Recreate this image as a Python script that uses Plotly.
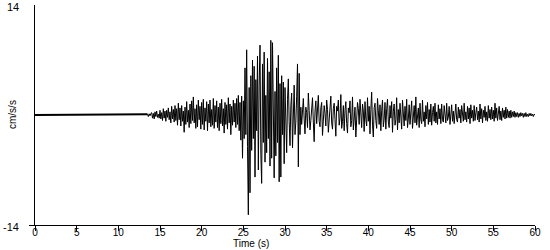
import plotly.graph_objects as go

# Accelerogram samples (cm/s/s); first sample at t_start, spacing dt
t_start = 13.5
dt = 0.1
acc = [
    0.1, -0.2, 0.15, -0.1, 0.2,
    0.3, -0.4, 0.2, -0.5, 0.4, -0.2, 0.5, -0.3, 0.1, -0.4,
    0.6, -0.5, 0.3, -0.7, 0.8, -0.4, 0.5, -0.8, 0.6, -0.3,
    0.9, -0.6, 0.4, -1.0, 1.1, -0.5, 0.7, -0.9, 1.2, -0.7,
    0.8, -1.3, 1.5, -0.6, 0.9, -1.4, 1.2, -0.8, 0.5, -2.2,
    1.0, -1.2, 1.7, -0.9, 0.6, -1.6, 1.4, -1.1, 1.8, -0.7,
    2.3, -1.0, 0.8, -1.7, 1.3, -1.5, 1.9, -0.6, 1.1, -1.8,
    1.6, -1.2, 2.0, -1.9, 0.9, -0.8, 1.7, -2.0, 1.4, -1.0,
    1.9, -1.5, 0.7, -1.3, 2.1, -1.7, 1.2, -0.9, 1.8, -1.6,
    1.0, -2.0, 1.5, -1.1, 2.0, -1.4, 0.8, -2.3, 1.6, -1.2,
    1.3, -1.8, 2.2, -1.0, 1.4, -2.5, 1.1, -1.3, 1.9, -0.9,
    1.5, -1.6, 2.1, -1.2, 2.5, -2.0, 1.6, -3.2, 2.4, -5.5,
    1.8, -3.0, 6.0, -2.5, 8.3, -4.0, -12.7, 3.5, -9.9, 5.0,
    -4.5, 7.0, -3.0, 6.2, -7.9, 4.5, -2.0, 7.5, -7.0, 3.8,
    8.9, -5.0, -8.7, 6.5, -3.5, 8.0, -6.0, 2.5, -4.8, 7.2,
    -3.0, 5.5, -6.5, 9.5, -5.5, 9.2, -4.0, -8.0, 3.0, -5.2,
    6.0, -3.5, 7.6, -8.5, 4.0, -7.9, 5.0, -2.5, 4.2, -6.2,
    3.5, -1.5, -4.8, 2.0, 4.6, -0.8, -3.9, 1.2, 2.8, -4.2,
    1.5, 3.8, -2.5, -0.9, 2.4, 6.5, -6.6, 5.3, -2.5, 1.0,
    -1.2, 0.8, 2.1, -0.5, -2.4, 1.0, 0.3, -1.6, 2.8, 0.6,
    -1.9, -0.7, 1.4, 2.2, -0.9, -3.4, 0.5, 1.8, -1.1, 0.4,
    2.5, -0.8, -1.5, 0.9, 1.6, -2.6, -0.6, 1.2, 0.2, -1.4,
    1.9, 0.7, -2.2, -0.9, 1.3, 2.4, -1.0, -1.8, 0.8, 1.5,
    -0.6, -2.7, 1.1, 0.5, 1.9, -1.3, -0.4, 2.6, -1.7, -0.8,
    1.2, -2.0, 0.6, 1.7, -1.1, -2.3, 0.9, 0.3, 1.8, -1.5,
    -0.7, 2.3, -1.9, 0.4, 1.0, -2.8, -0.5, 1.6, 0.8, -1.2,
    2.0, -0.9, -1.6, 1.4, 0.5, -2.1, 1.7, -0.6, -1.4, 2.2,
    -0.8, 1.1, -2.4, 0.7, 2.9, -1.3, -2.8, 0.9, 1.5, -0.7,
    -1.7, 2.1, 0.4, -1.2, 1.3, -2.0, 0.6, 1.9, -1.5, -0.5,
    1.6, -1.8, 0.8, 2.0, -0.9, -1.6, 1.2, -0.4, 1.7, -2.2,
    0.5, 1.4, -1.3, -0.6, 2.2, -1.9, 0.7, -1.0, 1.5, -0.8,
    -1.8, 1.9, 0.4, -1.4, 1.1, -0.7, 2.0, -1.6, -0.5, 1.3,
    -1.2, 0.6, 1.8, -1.7, -0.4, 1.2, -1.0, 2.3, -1.3, 0.5,
    0.9, -1.6, 1.5, -0.6, -1.1, 1.9, -0.8, 0.4, -1.5, 1.2,
    -0.5, 1.6, -1.2, 0.7, -0.9, 1.4, -1.3, 0.3, 1.1, -0.8,
    1.5, -1.0, 0.4, -1.2, 1.3, -0.5, 0.8, -1.1, 1.4, -0.6,
    -0.9, 1.2, 0.3, -1.0, 1.5, -0.7, -0.3, 1.1, -1.2, 0.6,
    1.3, -0.8, 0.5, -1.1, 0.9, 1.4, -0.6, -0.9, 1.0, -0.4,
    0.7, -1.0, 1.2, -0.3, -0.8, 1.5, -0.6, 0.4, -0.9, 1.1,
    -0.5, 0.9, -1.1, 1.3, -0.4, 0.6, -0.8, 1.2, -0.7, 0.3,
    1.0, -0.6, 0.5, -0.9, 1.4, -0.5, 0.8, -1.0, 0.6, -0.3,
    1.1, -0.7, 0.4, -0.8, 1.2, -0.4, 0.7, -0.6, 1.0, -0.5,
    0.6, -0.8, 1.5, -0.4, 0.9, -0.7, 0.3, 1.1, -0.6, 0.5,
    -0.7, 0.9, -0.3, 0.6, -0.5, 1.0, -0.4, 0.7, -0.3, 0.5,
    -0.4, 0.6, -0.3, 0.4, -0.2, 0.5, -0.3, 0.3, -0.2, 0.3,
    -0.3, 0.2, -0.2, 0.3, -0.1, 0.2, -0.3, 0.2, -0.2, 0.3,
    -0.2, 0.1, -0.2, 0.2, -0.1, 0.2, -0.1, 0.1, -0.2, 0.1,
    0.0,
]
x_ticks = [0, 5, 10, 15, 20, 25, 30, 35, 40, 45, 50, 55, 60]
y_range = [-14, 14]
y_tick_labels = ["-14", "14"]
x_title = "Time (s)"
y_title = "cm/s/s"

times = [0.0] + [round(t_start + dt * i, 3) for i in range(len(acc))]
values = [0.0] + acc

family = "Liberation Sans, Arial, sans-serif"
font = dict(family=family, size=11, color="black")
tick_font = dict(family=family, size=10, color="black")

fig = go.Figure()
# quiet pre-event segment
fig.add_trace(go.Scatter(x=times[:2], y=values[:2], mode="lines",
                         line=dict(color="black", width=2), hoverinfo="skip"))
fig.add_trace(go.Scatter(x=times[1:], y=values[1:], mode="lines",
                         line=dict(color="black", width=1), hoverinfo="skip"))

annotations = [
    dict(text=x_title, xref="paper", yref="paper", x=0.432, y=0,
         yshift=-26, xanchor="center", yanchor="bottom", showarrow=False,
         font=dict(family=family, size=10, color="black")),
    dict(text=y_title, xref="paper", yref="paper", x=0, y=0.5,
         xshift=-23, xanchor="center", yanchor="middle", textangle=-90,
         showarrow=False, font=dict(family=family, size=10, color="black")),
]
for val, lab in zip(y_range, y_tick_labels):
    annotations.append(dict(text=lab, xref="paper", yref="y", x=0, y=val,
                            xshift=-14, yshift=-2, xanchor="right", yanchor="middle",
                            showarrow=False, font=font))

fig.update_layout(
    width=550, height=250,
    margin=dict(l=35, r=15, t=5, b=25),
    paper_bgcolor="white", plot_bgcolor="white",
    showlegend=False,
    font=font,
    xaxis=dict(range=[0, 60], tickvals=x_ticks, ticks="outside", ticklen=5,
               tickcolor="black", showline=True, linecolor="black", linewidth=1,
               showgrid=False, zeroline=False, tickfont=tick_font, ticklabelstandoff=-7),
    yaxis=dict(range=y_range, tickvals=[y_range[0]], ticks="outside", ticklen=5,
               tickcolor="black", showline=True, linecolor="black", linewidth=1,
               showgrid=False, zeroline=False, showticklabels=False),
    annotations=annotations,
)

fig.write_html("out.html")
